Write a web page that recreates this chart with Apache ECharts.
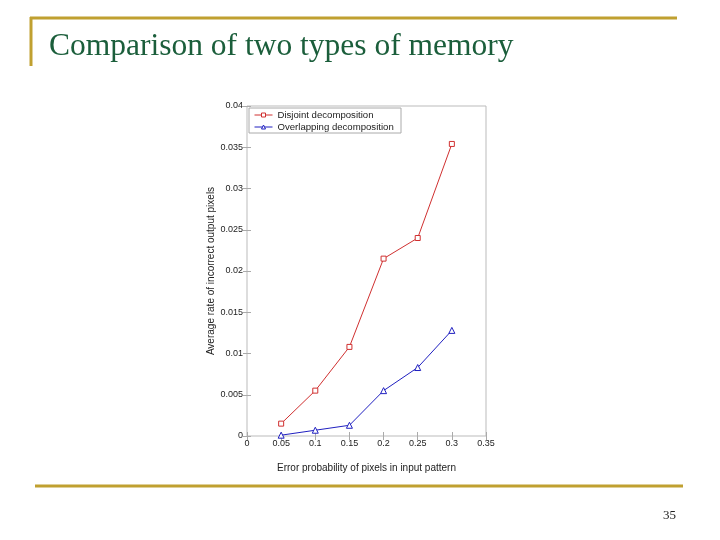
<!DOCTYPE html>
<html><head><meta charset="utf-8">
<script src="https://cdn.jsdelivr.net/npm/echarts@6/dist/echarts.min.js"></script>
<style>html,body{margin:0;padding:0;background:#fff}#c{width:720px;height:540px}</style>
</head><body><div id="c"></div>
<script>
var xValues = [0.05, 0.1, 0.15, 0.2, 0.25, 0.3];
var disjoint = [0.0015, 0.0055, 0.0108, 0.0215, 0.024, 0.0354];
var overlapping = [0.0001, 0.0007, 0.0013, 0.0055, 0.0083, 0.0128];
var seriesNames = ['Disjoint decomposition', 'Overlapping decomposition'];
var titleText = 'Comparison of two types of memory';
var xLabel = 'Error probability of pixels in input pattern';
var yLabel = 'Average rate of incorrect output pixels';
var pageNum = '35';

var red = '#d03030', blue = '#2020c0';
function pairs(ys){ return xValues.map(function(x,i){ return [x, ys[i]]; }); }
var chart = echarts.init(document.getElementById('c'));
var gold = '#c0a030';
function tick(){ return { show: true, inside: true, length: 4, lineStyle: { color: '#aaa' } }; }
chart.setOption({
  animation: false,
  backgroundColor: '#fff',
  title: { text: titleText, left: 44, top: 26, textStyle: { fontFamily: 'Liberation Serif', fontSize: 31.5, fontWeight: 'normal', color: '#1b5e3b' } },
  graphic: [
    { type: 'line', shape: { x1: 30, y1: 18, x2: 677, y2: 18 }, style: { stroke: gold, lineWidth: 3 } },
    { type: 'line', shape: { x1: 31, y1: 17, x2: 31, y2: 66 }, style: { stroke: gold, lineWidth: 3 } },
    { type: 'line', shape: { x1: 35, y1: 486, x2: 683, y2: 486 }, style: { stroke: gold, lineWidth: 3 } },
    { type: 'text', left: 663, top: 509, style: { text: pageNum, font: '13px "Liberation Serif"', fill: '#222' } },
    { type: 'rect', shape: { x: 249, y: 108, width: 152, height: 25 }, style: { fill: '#fff', stroke: '#aaa', lineWidth: 1 }, z: 10 }
  ],
  legend: {
    left: 254, top: 110, padding: 0, orient: 'vertical', itemGap: 2, itemWidth: 18, itemHeight: 5,
    textStyle: { fontFamily: 'Liberation Sans', fontSize: 9.6, color: '#222' },
    data: [
      { name: seriesNames[0], itemStyle: { color: '#fff', borderColor: red, borderWidth: 1 }, lineStyle: { color: red, width: 1 } },
      { name: seriesNames[1], itemStyle: { color: '#fff', borderColor: blue, borderWidth: 1 }, lineStyle: { color: blue, width: 1 } }
    ],
    z: 11
  },
  grid: { left: 247, right: 234, top: 106, bottom: 104, show: true, borderColor: '#bbb', borderWidth: 1 },
  xAxis: [{
    type: 'value', min: 0, max: 0.35, interval: 0.05,
    name: xLabel, nameLocation: 'middle', nameGap: 27,
    nameTextStyle: { fontFamily: 'Liberation Sans', fontSize: 10, color: '#222' },
    axisLine: { show: false },
    axisTick: tick(),
    axisLabel: { fontFamily: 'Liberation Sans', fontSize: 9, color: '#222', margin: 3, formatter: function(v){ return String(+v.toFixed(2)); } },
    splitLine: { show: false }
  }, {
    type: 'value', position: 'top', min: 0, max: 0.35, interval: 0.05,
    axisLine: { show: false }, axisTick: tick(), axisLabel: { show: false }, splitLine: { show: false }
  }],
  yAxis: [{
    type: 'value', min: 0, max: 0.04, interval: 0.005,
    name: yLabel, nameLocation: 'middle', nameGap: 31,
    nameTextStyle: { fontFamily: 'Liberation Sans', fontSize: 10, color: '#222' },
    axisLine: { show: false },
    axisTick: tick(),
    axisLabel: { fontFamily: 'Liberation Sans', fontSize: 9, color: '#222', margin: 4, formatter: function(v){ return String(+v.toFixed(3)); } },
    splitLine: { show: false }
  }, {
    type: 'value', position: 'right', min: 0, max: 0.04, interval: 0.005,
    axisLine: { show: false }, axisTick: tick(), axisLabel: { show: false }, splitLine: { show: false }
  }],
  series: [
    { name: seriesNames[0], type: 'line', data: pairs(disjoint), symbol: 'rect', symbolSize: 5,
      itemStyle: { color: '#fff', borderColor: red, borderWidth: 1 }, lineStyle: { color: red, width: 1 } },
    { name: seriesNames[1], type: 'line', data: pairs(overlapping), symbol: 'triangle', symbolSize: 6,
      itemStyle: { color: '#fff', borderColor: blue, borderWidth: 1 }, lineStyle: { color: blue, width: 1 } }
  ]
});
</script></body></html>
